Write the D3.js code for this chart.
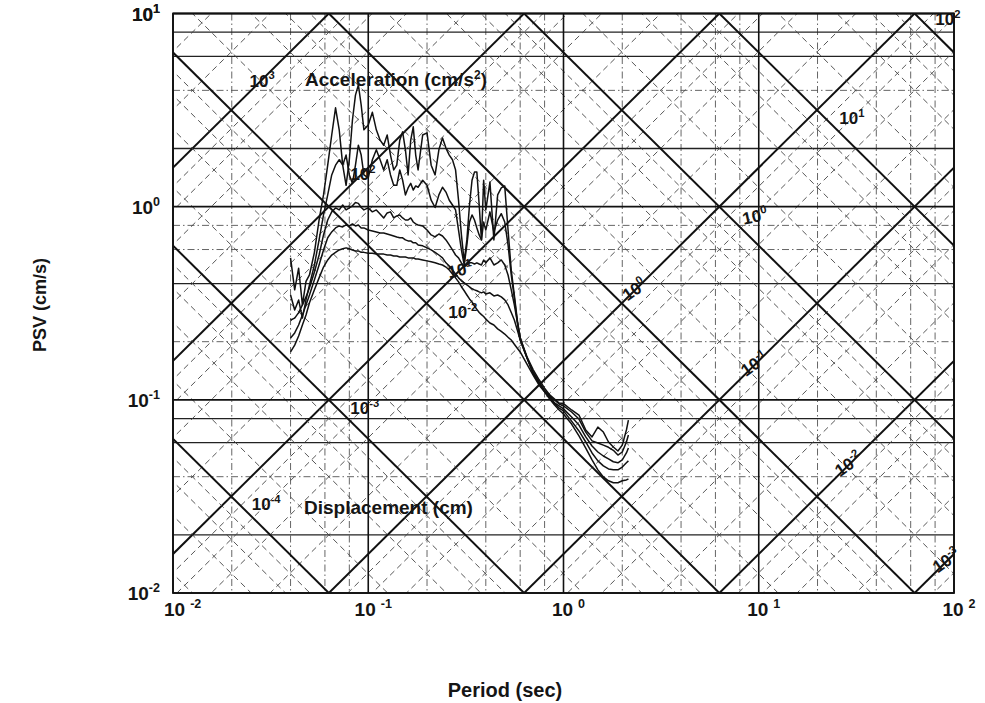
<!DOCTYPE html>
<html lang="en">
<head>
<meta charset="UTF-8">
<title>PSV tripartite spectrum</title>
<script src="https://cdn.jsdelivr.net/npm/d3@7"></script>
<style>
  body { margin: 0; background: #fff; }
  svg text { font-family: "Liberation Sans", Arial, sans-serif; font-weight: bold; fill: #151515; }
</style>
</head>
<body>
<svg id="chart" width="985" height="703"></svg>
<script>
// ---------------- data ----------------
// periods (sec) shared by all five spectra
const periods = [0.040,0.042,0.044,0.046,0.048,0.050,
  0.053,0.056,0.059,0.062,0.065,0.068,0.071,0.074,0.077,0.080,0.083,0.086,0.089,0.092,0.095,
  0.100,0.105,0.110,0.115,0.120,0.125,0.130,0.135,0.140,0.145,0.150,0.155,0.160,0.165,0.170,0.175,0.180,
  0.19,0.20,0.21,0.22,0.23,0.24,0.25,0.26,0.27,0.28,0.29,0.30,0.31,0.32,0.33,0.34,0.35,0.36,0.37,0.38,0.39,0.40,
  0.42,0.44,0.46,0.48,0.50,0.52,0.54,0.56,0.58,0.60,
  0.65,0.70,0.75,0.80,0.85,0.90,0.95,1.00,
  1.1,1.2,1.3,1.4,1.5,1.6,1.7,1.8,1.9,2.0,2.1,
  2.15];

// PSV (cm/s), top (most jagged) to bottom
const psv1 = [0.543,0.371,0.48,0.31,0.41,0.443,
  0.58,0.853,1.15,1.64,2.35,3.25,2.5,1.64,1.29,1.75,2.81,3.78,4.27,3.36,2.5,
  2.65,3.08,2.5,2.21,2.08,2.35,1.85,1.55,1.64,2.21,2.44,1.97,1.46,2.21,2.59,1.85,1.55,
  2.35,2.41,1.64,1.46,1.97,2.27,2.01,1.85,1.75,1.55,1.08,0.714,0.52,0.673,1.02,1.37,1.51,1.51,1.02,0.673,1.37,0.962,
  1.34,0.673,1.15,1.25,1.28,0.757,0.47,0.349,0.259,0.209,
  0.167,0.143,0.127,0.115,0.106,0.101,0.0963,0.0956,
  0.0886,0.0834,0.0698,0.0643,0.0722,0.0681,0.0605,0.057,0.0543,0.0583,0.0698,
  0.0785];
const psv2 = [0.349,0.292,0.329,0.265,0.329,0.394,
  0.499,0.673,0.906,1.15,1.46,1.64,1.75,1.64,1.85,1.46,1.32,1.64,2.08,1.85,1.46,
  1.41,1.75,1.97,1.75,1.55,1.75,1.46,1.29,1.29,1.55,1.37,1.15,1.25,1.32,1.22,1.28,1.26,
  1.37,1.29,1.08,0.99,1.15,1.26,1.19,1.08,1.02,0.962,0.757,0.597,0.499,0.634,0.833,0.906,0.853,0.776,0.714,0.673,0.833,0.757,
  0.94,0.74,0.853,0.92,0.833,0.634,0.443,0.337,0.253,0.204,
  0.165,0.139,0.124,0.112,0.105,0.0998,0.0951,0.093,
  0.0865,0.0795,0.0681,0.0613,0.0598,0.0583,0.0568,0.0548,0.0518,0.0537,0.0605,
  0.0658];
const psv3 = [0.259,0.265,0.283,0.31,0.341,0.38,
  0.459,0.562,0.714,0.853,0.94,0.985,0.962,1.02,0.962,0.985,1.01,1.05,1.04,0.99,0.962,
  0.985,0.94,0.962,0.917,0.874,0.928,0.94,0.874,0.895,0.906,0.874,0.853,0.853,0.874,0.833,0.814,0.804,
  0.795,0.757,0.714,0.697,0.722,0.705,0.673,0.634,0.597,0.562,0.543,0.512,0.487,0.499,0.512,0.512,0.505,0.512,0.505,0.499,0.53,0.512,
  0.543,0.499,0.512,0.53,0.499,0.443,0.371,0.31,0.253,0.209,
  0.165,0.137,0.122,0.111,0.104,0.0963,0.093,0.0898,
  0.0814,0.074,0.0643,0.0577,0.0537,0.0512,0.0495,0.0478,0.0472,0.0489,0.0531,
  0.0563];
const psv4 = [0.209,0.222,0.244,0.275,0.31,0.349,
  0.418,0.499,0.597,0.69,0.74,0.776,0.795,0.785,0.804,0.795,0.814,0.795,0.804,0.776,0.776,
  0.757,0.748,0.74,0.731,0.731,0.722,0.714,0.705,0.697,0.69,0.69,0.673,0.665,0.665,0.65,0.65,0.634,
  0.627,0.612,0.597,0.58,0.562,0.543,0.512,0.493,0.47,0.448,0.428,0.413,0.403,0.394,0.385,0.376,0.371,0.367,0.362,0.358,0.362,0.353,
  0.358,0.345,0.349,0.341,0.329,0.31,0.283,0.259,0.23,0.204,
  0.165,0.136,0.121,0.11,0.102,0.0956,0.0907,0.0877,
  0.0776,0.069,0.0605,0.0531,0.0483,0.0455,0.0439,0.0434,0.0434,0.0449,0.0472,
  0.0483];
const psv5 = [0.177,0.192,0.214,0.244,0.275,0.318,
  0.371,0.428,0.487,0.53,0.562,0.58,0.597,0.605,0.612,0.605,0.597,0.59,0.59,0.58,0.58,
  0.574,0.574,0.568,0.568,0.568,0.562,0.562,0.555,0.555,0.549,0.549,0.549,0.543,0.543,0.543,0.536,0.536,
  0.53,0.524,0.518,0.512,0.505,0.499,0.487,0.47,0.448,0.428,0.408,0.385,0.367,0.349,0.333,0.321,0.306,0.294,0.283,0.276,0.27,0.262,
  0.25,0.244,0.233,0.226,0.219,0.211,0.204,0.194,0.185,0.177,
  0.153,0.134,0.119,0.11,0.101,0.094,0.0886,0.0844,
  0.0749,0.065,0.0563,0.0489,0.0434,0.0399,0.0381,0.0372,0.0372,0.0381,0.0385,
  0.0389];
const spectra = [psv1, psv2, psv3, psv4, psv5];

// axis ticks
const xTickExps = [-2, -1, 0, 1, 2];
const yTickExps = [-2, -1, 0, 1];
const minorMult = [2, 4, 6, 8];
// horizontal minor lines that print as full lines (the rest are dash-dot)
const hSolidMinor = [8, 6, 2, 0.4, 0.08, 0.06, 0.02];

// diagonal line families (decade exponents)
const accExps = [-4, -3, -2, -1, 0, 1, 2, 3];
const dispExps = [-5, -4, -3, -2, -1, 0, 1, 2];

// diagonal labels: exponent and the period where it sits
const accLabelExp = [3, 2, 1, 0, -1, -2, -3];
const accLabelT = [0.0286, 0.094, 0.30, 2.4, 9.9, 30, 95];
const dispLabelExp = [2, 1, 0, -2, -3, -4];
const dispLabelT = [93, 30, 9.7, 0.305, 0.096, 0.030];

// ---------------- setup ----------------
const plot = { left: 173, right: 954, top: 13.5, bottom: 593 };
const twoPi = 2 * Math.PI;

const x = d3.scaleLog().domain([0.01, 100]).range([plot.left, plot.right]);
const y = d3.scaleLog().domain([0.01, 10]).range([plot.bottom, plot.top]);

const svg = d3.select("#chart");

svg.append("defs").append("clipPath").attr("id", "clip")
  .append("rect")
  .attr("x", plot.left).attr("y", plot.top)
  .attr("width", plot.right - plot.left).attr("height", plot.bottom - plot.top);

const grid = svg.append("g").attr("clip-path", "url(#clip)");

// vertical minor lines (dash-dot)
xTickExps.slice(0, -1).forEach(e => {
  minorMult.forEach(m => {
    const xv = x(m * Math.pow(10, e));
    grid.append("line")
      .attr("x1", xv).attr("x2", xv).attr("y1", plot.top).attr("y2", plot.bottom)
      .attr("stroke", "#555").attr("stroke-width", 0.9)
      .attr("stroke-dasharray", "7,3,1.5,3");
  });
});

// horizontal minor lines
yTickExps.forEach(e => {
  minorMult.forEach(m => {
    const v = m * Math.pow(10, e - 1);
    const yv = y(v);
    const solid = hSolidMinor.some(s => Math.abs(s - v) / v < 1e-6);
    grid.append("line")
      .attr("x1", plot.left).attr("x2", plot.right).attr("y1", yv).attr("y2", yv)
      .attr("stroke", solid ? "#222" : "#555")
      .attr("stroke-width", solid ? 1.3 : 0.9)
      .attr("stroke-dasharray", solid ? null : "7,3,1.5,3");
  });
});

// diagonal lines
const diag = d3.line().x(d => x(d[0])).y(d => y(d[1]));
const Tends = [0.001, 1000];

function drawFamily(exps, psvOf) {
  exps.forEach(e => {
    [1].concat(minorMult).forEach(m => {
      const val = m * Math.pow(10, e);
      const major = m === 1;
      grid.append("path")
        .attr("d", diag(Tends.map(T => [T, psvOf(val, T)])))
        .attr("fill", "none")
        .attr("stroke", major ? "#111" : "#444")
        .attr("stroke-width", major ? 2 : 0.9)
        .attr("stroke-dasharray", major ? null : "6,4");
    });
  });
}
drawFamily(accExps, (A, T) => A * T / twoPi);
drawFamily(dispExps, (D, T) => twoPi * D / T);

// decade lines
xTickExps.forEach(e => {
  const xv = x(Math.pow(10, e));
  svg.append("line")
    .attr("x1", xv).attr("x2", xv).attr("y1", plot.top).attr("y2", plot.bottom)
    .attr("stroke", "#111").attr("stroke-width", 1.6);
});
yTickExps.concat([1]).forEach(e => {
  const yv = y(Math.pow(10, e));
  svg.append("line")
    .attr("x1", plot.left).attr("x2", plot.right).attr("y1", yv).attr("y2", yv)
    .attr("stroke", "#111").attr("stroke-width", 1.6);
});

// ---------------- spectra ----------------
const curve = d3.line().x(d => x(d[0])).y(d => y(d[1]));
spectra.forEach(s => {
  svg.append("path")
    .attr("d", curve(periods.map((T, i) => [T, s[i]])))
    .attr("fill", "none")
    .attr("stroke", "#111")
    .attr("stroke-width", 1.5)
    .attr("stroke-linejoin", "round");
});

// ---------------- text ----------------
function power(g, px, py, exp, opts) {
  const t = g.append("text")
    .attr("x", px).attr("y", py)
    .attr("text-anchor", opts.anchor || "middle")
    .attr("font-size", opts.size);
  if (opts.rotate) t.attr("transform", `rotate(${opts.rotate},${px},${py})`);
  t.append("tspan").text("10");
  t.append("tspan")
    .attr("dx", opts.gap || 0)
    .attr("dy", -opts.size * 0.42)
    .attr("font-size", opts.size * 0.66)
    .text(exp);
  return t;
}

// y tick labels
yTickExps.concat([1]).forEach(e => {
  power(svg, 160, y(Math.pow(10, e)) + 7, e, { size: 19, anchor: "end" });
});
// x tick labels
xTickExps.forEach(e => {
  const xv = x(Math.pow(10, e));
  if (e === -2) power(svg, 164, 616, e, { size: 19, anchor: "start", gap: 5 });
  else power(svg, xv + 5, 616, e, { size: 19, gap: 5 });
});

// acceleration labels (on their lines)
accLabelExp.forEach((e, i) => {
  const T = accLabelT[i];
  const px = x(T), py = y(Math.pow(10, e) * T / twoPi) + 7;
  power(svg, px, py, e, { size: 17, rotate: e <= 0 ? -35 : (e === 1 ? -12 : 0) });
});
// displacement labels (just above their lines)
dispLabelExp.forEach((e, i) => {
  const T = dispLabelT[i];
  const px = x(T), py = y(twoPi * Math.pow(10, e) / T) - 21;
  power(svg, px, py, e, { size: 17, rotate: e === 0 ? -12 : 0 });
});

const acc = svg.append("text").attr("x", 305).attr("y", 86).attr("font-size", 19);
acc.append("tspan").text("Acceleration (cm/s");
acc.append("tspan").attr("dy", -7).attr("font-size", 12).text("2");
acc.append("tspan").attr("dy", 7).text(")");

svg.append("text").attr("x", 304).attr("y", 514).attr("font-size", 19)
  .text("Displacement (cm)");

// axis titles
svg.append("text")
  .attr("transform", "translate(46,305) rotate(-90)")
  .attr("text-anchor", "middle").attr("font-size", 18)
  .text("PSV (cm/s)");
svg.append("text")
  .attr("x", 505).attr("y", 697)
  .attr("text-anchor", "middle").attr("font-size", 20)
  .text("Period (sec)");

// frame
svg.append("rect")
  .attr("x", plot.left).attr("y", plot.top)
  .attr("width", plot.right - plot.left).attr("height", plot.bottom - plot.top)
  .attr("fill", "none").attr("stroke", "#111").attr("stroke-width", 1.8);
</script>
</body>
</html>
